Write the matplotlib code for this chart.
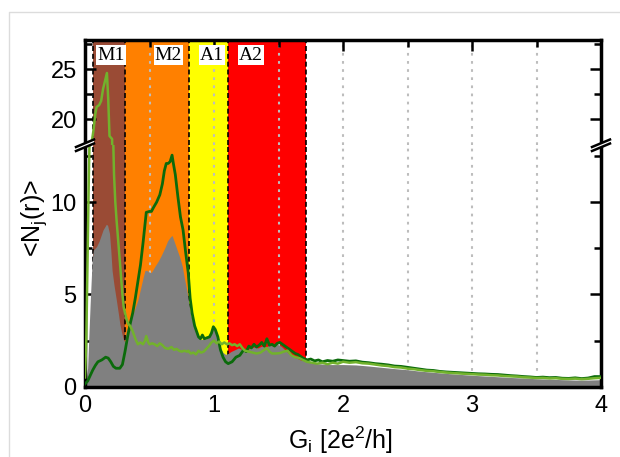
import numpy as np
import matplotlib
matplotlib.use('Agg')
import matplotlib.pyplot as plt
from matplotlib.lines import Line2D
from matplotlib.patches import Polygon

plt.rcParams['font.family'] = 'Liberation Sans'
plt.rcParams['mathtext.fontset'] = 'custom'
plt.rcParams['mathtext.rm'] = 'Liberation Sans'
plt.rcParams['mathtext.it'] = 'Liberation Sans:italic'

W, H = 620, 457

# conductance regions
REGION_NAMES  = ['M1', 'M2', 'A1', 'A2']
REGION_EDGES  = [0.06, 0.31, 0.81, 1.11, 1.71]
REGION_COLORS = ['#9a4b35', '#ff8000', '#ffff00', '#ff0000']
LABEL_X       = [0.094, 0.541, 0.891, 1.195]

# dark green curve
dg_x = [0.0, 0.02, 0.04, 0.06, 0.08, 0.10, 0.13, 0.16, 0.18, 0.20, 0.22, 0.24, 0.27, 0.29,
        0.31, 0.33, 0.35, 0.37, 0.39, 0.41, 0.43, 0.45, 0.465, 0.475, 0.50, 0.515, 0.53,
        0.555, 0.58, 0.60, 0.615, 0.63, 0.645, 0.66, 0.675, 0.685, 0.70, 0.72, 0.74, 0.76,
        0.78, 0.80, 0.815, 0.83, 0.85, 0.865, 0.88, 0.895, 0.91, 0.925, 0.945, 0.965, 0.98,
        0.995, 1.01, 1.03, 1.05, 1.07, 1.09, 1.11, 1.14, 1.17, 1.20, 1.23, 1.25, 1.27, 1.29,
        1.31, 1.33, 1.35, 1.37, 1.39, 1.41, 1.43, 1.45, 1.47, 1.49, 1.51, 1.53, 1.55, 1.57,
        1.59, 1.61, 1.63, 1.65, 1.67, 1.69, 1.72, 1.75, 1.78, 1.81, 1.84, 1.88, 1.92, 1.96,
        2.0, 2.05, 2.1, 2.15, 2.2, 2.25, 2.3, 2.35, 2.4, 2.45, 2.5, 2.55, 2.6, 2.65, 2.7,
        2.75, 2.8, 2.85, 2.9, 2.95, 3.0, 3.05, 3.1, 3.15, 3.2, 3.25, 3.3, 3.35, 3.4, 3.45,
        3.5, 3.55, 3.6, 3.65, 3.7, 3.75, 3.8, 3.85, 3.9, 3.95, 4.0]
dg_y = [0.15, 0.3, 0.6, 0.9, 1.15, 1.35, 1.45, 1.6, 1.55, 1.35, 1.1, 1.0, 1.0, 1.2,
        1.9, 2.7, 3.4, 4.0, 4.8, 5.7, 6.6, 7.8, 8.8, 9.45, 9.5, 9.5, 9.7,
        10.0, 10.4, 11.0, 11.7, 12.1, 12.1, 12.2, 12.55, 12.1, 11.5, 10.3, 9.2, 8.5,
        7.3, 6.2, 4.8, 4.0, 3.3, 3.0, 2.7, 2.6, 2.8, 2.6, 2.65, 2.7, 2.9,
        3.25, 3.1, 2.7, 2.0, 1.6, 1.35, 1.25, 1.35, 1.6, 1.7, 2.0, 1.9, 2.2, 2.1,
        2.3, 2.15, 2.25, 2.4, 2.2, 2.6, 2.25, 2.3, 2.2, 2.35, 2.4, 2.3, 2.2, 2.1,
        2.0, 1.9, 1.8, 1.75, 1.65, 1.55, 1.45, 1.5, 1.4, 1.45, 1.35, 1.42, 1.38, 1.45,
        1.42, 1.38, 1.4, 1.33, 1.3, 1.25, 1.22, 1.18, 1.12, 1.1, 1.05, 1.0, 0.95, 0.9, 0.88,
        0.83, 0.8, 0.78, 0.76, 0.74, 0.72, 0.7, 0.69, 0.67, 0.66, 0.63, 0.6, 0.58, 0.55, 0.53,
        0.5, 0.52, 0.49, 0.5, 0.46, 0.45, 0.48, 0.44, 0.47, 0.55, 0.55]

# light green curve
lg_x = [0.0, 0.01, 0.02, 0.03, 0.04, 0.05, 0.065, 0.08, 0.09, 0.11, 0.125, 0.14, 0.155,
        0.17, 0.18, 0.19, 0.21, 0.215, 0.225, 0.235, 0.245, 0.256, 0.27, 0.28, 0.29, 0.30,
        0.32, 0.335, 0.35, 0.37, 0.39, 0.41, 0.43, 0.45, 0.465, 0.475, 0.49, 0.50, 0.52,
        0.54, 0.56, 0.58, 0.60, 0.62, 0.645, 0.67, 0.69, 0.71, 0.73, 0.75, 0.77, 0.79, 0.80,
        0.82, 0.84, 0.86, 0.88, 0.90, 0.92, 0.94, 0.96, 0.98, 1.00, 1.02, 1.04, 1.06, 1.08,
        1.10, 1.12, 1.14, 1.16, 1.18, 1.20, 1.22, 1.24, 1.27, 1.30, 1.33, 1.36, 1.39, 1.41,
        1.43, 1.45, 1.48, 1.51, 1.54, 1.57, 1.60, 1.63, 1.66, 1.69, 1.72, 1.76, 1.80, 1.84,
        1.88, 1.92, 1.96, 2.0, 2.05, 2.1, 2.15, 2.2, 2.25, 2.3, 2.35, 2.4, 2.45, 2.5, 2.55,
        2.6, 2.65, 2.7, 2.75, 2.8, 2.85, 2.9, 2.95, 3.0, 3.05, 3.1, 3.15, 3.2, 3.25, 3.3,
        3.35, 3.4, 3.45, 3.5, 3.55, 3.6, 3.65, 3.7, 3.75, 3.8, 3.85, 3.9, 3.95, 4.0]
lg_y = [0.5, 2.5, 7.0, 11.5, 15.0, 17.5, 18.8, 20.5, 21.2, 21.4, 21.8, 23.0, 23.8,
        24.6, 22.0, 18.3, 18.0, 14.5, 11.5, 10.0, 9.0, 8.0, 6.8, 5.9, 5.0, 4.3,
        3.7, 3.4, 3.3, 3.0, 2.6, 2.3, 2.4, 2.3, 2.5, 2.75, 2.4, 2.3, 2.35,
        2.3, 2.2, 2.35, 2.25, 2.1, 2.05, 2.15, 2.0, 2.05, 1.95, 1.9, 1.95, 1.9, 1.95,
        1.8, 1.85, 1.75, 1.95, 1.85, 1.9, 2.05, 2.2, 2.4, 2.5, 2.35, 2.45, 2.3, 2.4,
        2.3, 2.35, 2.25, 2.3, 2.2, 2.3, 2.1, 1.95, 1.9, 1.85, 1.8, 1.85, 2.0, 2.1,
        1.9, 1.8, 1.8, 1.82, 1.9, 1.95, 1.7, 1.6, 1.55, 1.45, 1.35, 1.3, 1.25, 1.3,
        1.22, 1.3, 1.25, 1.35, 1.3, 1.33, 1.27, 1.25, 1.2, 1.15, 1.12, 1.06, 1.04, 0.98, 0.95,
        0.9, 0.86, 0.84, 0.8, 0.77, 0.74, 0.72, 0.7, 0.68, 0.66, 0.65, 0.62, 0.61, 0.58, 0.56,
        0.55, 0.51, 0.5, 0.47, 0.48, 0.45, 0.46, 0.43, 0.42, 0.44, 0.41, 0.43, 0.46, 0.48]

# gray filled distribution
gr_x = [0.0, 0.02, 0.04, 0.055, 0.065, 0.09, 0.11, 0.14, 0.165, 0.175, 0.19, 0.20, 0.21,
        0.225, 0.243, 0.26, 0.27, 0.285, 0.30, 0.31, 0.32, 0.34, 0.36, 0.39, 0.41, 0.43,
        0.45, 0.465, 0.48, 0.50, 0.515, 0.54, 0.567, 0.59, 0.62, 0.64, 0.66, 0.675, 0.69,
        0.71, 0.735, 0.755, 0.77, 0.79, 0.805, 0.82, 0.84, 0.86, 0.88, 0.90, 0.92, 0.94,
        0.96, 0.98, 0.995, 1.01, 1.03, 1.05, 1.07, 1.09, 1.11, 1.13, 1.16, 1.19, 1.22, 1.25,
        1.28, 1.31, 1.34, 1.37, 1.40, 1.43, 1.46, 1.49, 1.52, 1.55, 1.58, 1.61, 1.64, 1.67,
        1.70, 1.75, 1.8, 1.9, 2.0, 2.1, 2.2, 2.3, 2.4, 2.5, 2.6, 2.7, 2.8, 2.9, 3.0, 3.1,
        3.2, 3.3, 3.4, 3.5, 3.6, 3.7, 3.8, 3.9, 4.0]
gr_y = [0.0, 1.0, 4.5, 6.8, 7.4, 7.6, 7.9, 8.5, 8.8, 8.75, 8.3, 7.4, 6.3,
        5.5, 4.7, 3.9, 3.4, 2.9, 2.5, 2.45, 3.0, 3.4, 3.75, 4.3, 4.7, 5.3,
        5.9, 6.3, 6.3, 6.2, 6.2, 6.5, 6.8, 7.1, 7.55, 7.9, 8.1, 8.2, 7.9,
        7.5, 7.0, 6.5, 5.9, 5.2, 4.5, 3.9, 3.4, 3.0, 2.65, 2.55, 2.6, 2.6,
        2.7, 2.9, 3.3, 3.1, 2.6, 2.1, 1.85, 1.75, 1.8, 1.9, 2.0, 2.1, 2.0, 1.95,
        2.1, 2.15, 2.1, 2.2, 2.15, 2.25, 2.2, 2.3, 2.2, 2.0, 1.8, 1.65, 1.55, 1.45,
        1.4, 1.3, 1.25, 1.2, 1.2, 1.18, 1.12, 1.05, 0.98, 0.92, 0.84, 0.78, 0.72, 0.67, 0.62, 0.58,
        0.54, 0.5, 0.47, 0.43, 0.41, 0.38, 0.36, 0.36, 0.38]

GRID_X = [0.5, 1.0, 1.5, 2.0, 2.5, 3.0, 3.5]


def fx(px):
    return px / W


def fy(py):
    return 1 - py / H


fig = plt.figure(figsize=(W / 100, H / 100), dpi=100)
left, right, top, brk, bottom = 85, 601, 40, 145, 386.7
ax_top = fig.add_axes([fx(left), fy(brk), (right - left) / W, (brk - top) / H])
ax_bot = fig.add_axes([fx(left), fy(bottom), (right - left) / W, (bottom - brk) / H])

for ax in (ax_top, ax_bot):
    for i, c in enumerate(REGION_COLORS):
        ax.axvspan(REGION_EDGES[i], REGION_EDGES[i + 1], color=c, lw=0, zorder=0)
    for g in GRID_X:
        ax.axvline(g, color='#bdbdbd', lw=1.5, dashes=(1.3, 2.6), zorder=1)
    for e in REGION_EDGES:
        ax.axvline(e, color='black', lw=1.2, dashes=(3, 1.7), zorder=1.5)
    ax.fill_between(gr_x, gr_y, color='#808080', lw=0, zorder=2)
    ax.plot(dg_x, dg_y, color='#0b6b0b', lw=2.0, zorder=3)
    ax.plot(lg_x, lg_y, color='#72b22c', lw=1.8, zorder=3.5)
    ax.set_xlim(0, 4)
    for sp in ax.spines.values():
        sp.set_linewidth(2.5)
    ax.tick_params(which='both', direction='in', left=True, right=True, width=1.8,
                   labelsize=17, pad=6)
    ax.tick_params(which='major', length=8)
    ax.tick_params(which='minor', length=5)
    ax.set_xticks([0, 1, 2, 3, 4])
    ax.set_xticks(GRID_X, minor=True)

ax_top.set_ylim(17.4, 27.9)
ax_top.set_yticks([20, 25])
ax_top.set_yticks([22.5, 27.5], minor=True)
ax_top.spines['bottom'].set_visible(False)
ax_top.tick_params(axis='x', which='both', bottom=False, top=True, labelbottom=False)

ax_bot.set_ylim(0, 13.1)
ax_bot.set_yticks([0, 5, 10])
ax_bot.set_yticks([2.5, 7.5, 12.5], minor=True)
ax_bot.spines['top'].set_visible(False)
ax_bot.tick_params(axis='x', which='both', top=False, bottom=True)

for name, lx in zip(REGION_NAMES, LABEL_X):
    ax_top.text(lx, 26.4, name, family='Liberation Serif', fontsize=14,
                ha='left', va='center', zorder=5,
                bbox=dict(boxstyle='square,pad=0.06', fc='white', ec='none'))

# axis break marks on both spines
for sx in (left, right):
    gap = Polygon([(fx(sx - 9), fy(147)), (fx(sx + 9), fy(139.5)),
                   (fx(sx + 9), fy(143.5)), (fx(sx - 9), fy(151))],
                  closed=True, fc='white', ec='none', transform=fig.transFigure, zorder=10)
    fig.add_artist(gap)
    for off in (0, 4):
        fig.add_artist(Line2D([fx(sx - 9), fx(sx + 9)], [fy(147 + off), fy(139.5 + off)],
                              color='black', lw=1.8, transform=fig.transFigure, zorder=11))

fig.text(fx(34), fy(218), '<N$_\\mathrm{j}$(r)>', rotation=90, ha='center', va='center',
         fontsize=18)
fig.text(fx(340), fy(440), 'G$_\\mathrm{i}$ [2e$^2$/h]', ha='center', va='center', fontsize=18)

# thin outer frame
fig.add_artist(Line2D([fx(9), fx(9), 1], [0, fy(12), fy(12)], color='#dcdcdc', lw=1,
                      transform=fig.transFigure))

fig.savefig('out.png', dpi=100)
